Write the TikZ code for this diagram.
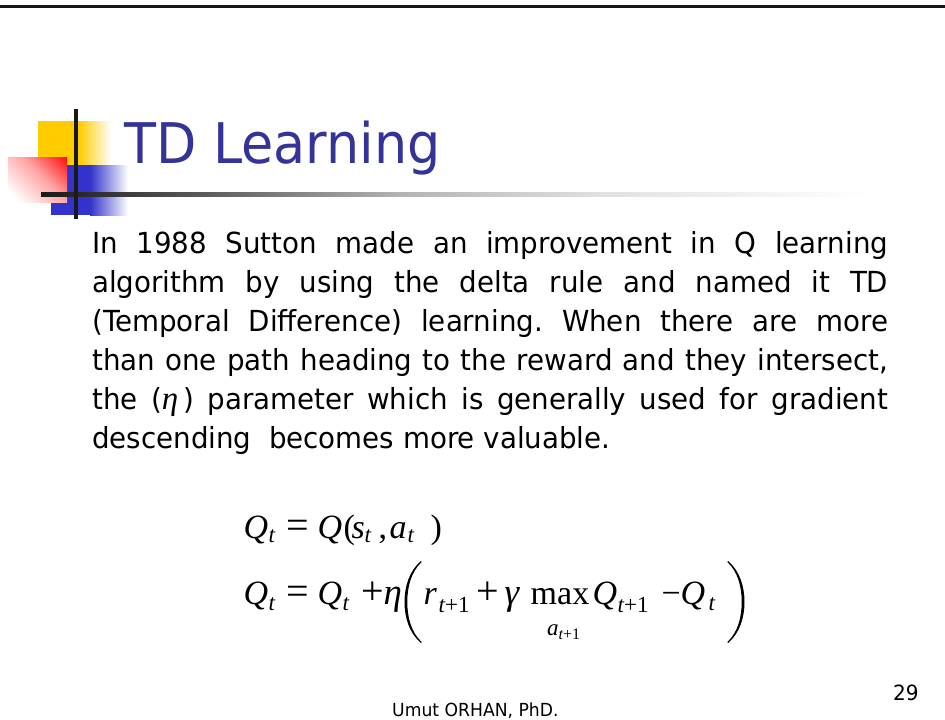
\documentclass[tikz,border=0pt]{standalone}
\usepackage{fontspec}
\usetikzlibrary{shadings}
\newfontfamily\slidefont{DejaVu Sans}[FakeStretch=0.955]
\newfontfamily\titlefont{DejaVu Sans}[FakeStretch=0.935]
\newfontfamily\eqfont{Liberation Serif}

\definecolor{titleblue}{RGB}{51,51,153}
\definecolor{logoblue}{RGB}{51,51,204}
\definecolor{logoyellow}{RGB}{255,204,0}
\definecolor{logored}{RGB}{255,0,0}

% grey rule under the title, fading out to the right
\pgfdeclarehorizontalshading{rulefade}{100bp}{%
  color(0bp)=(black!90); color(25bp)=(black!90);
  color(34.6bp)=(black!65); color(46.6bp)=(black!30);
  color(58.7bp)=(black!12); color(75bp)=(white); color(100bp)=(white)}
% red square: white in one corner, red in the opposite one
\pgfdeclareverticalshading{redfade}{100bp}{%
  color(0bp)=(white); color(22bp)=(white);
  color(55bp)=(logored!35); color(88bp)=(logored); color(100bp)=(logored)}

% place a piece of a formula at a fixed offset from the line start
\newcommand\putat[2]{\rlap{\hspace*{#1pt}#2}}
% lowered subscript
\newcommand\lowsub[2][6]{\raisebox{-#1pt}{\fontsize{23}{23}\selectfont #2}}
% operators and Greek letters set a little larger
\newcommand\bigop[1]{{\fontsize{40}{40}\selectfont #1}}
\newcommand\grk[1]{{\fontsize{37}{37}\selectfont\itshape #1}}

\tikzset{
  slidetext/.style={inner sep=0pt, font=\slidefont},
  formula/.style={inner sep=0pt, anchor=base west, font=\eqfont\fontsize{34}{40}\selectfont},
  bigparen/.style={fill=black},
}

\begin{document}
\begin{tikzpicture}[x=1pt,y=-1pt]
\useasboundingbox (0,0) rectangle (945,720);
\fill[white] (0,0) rectangle (945,720);

% top border
\draw[line width=3.5pt, black!92] (0,6.5) -- (945,6.5);

% title logo: yellow, blue and red squares with a cross
\fill[logoyellow] (38,121) rectangle (79.5,165);
\shade[left color=logoyellow, right color=white] (79,121) rectangle (111,165);
\fill[logoblue] (51,165) rectangle (90.5,215);
\shade[left color=logoblue, right color=white] (90,165) rectangle (128,215);
\shade[shading=redfade, shading angle=-45] (8,157) rectangle (67,202);
\shade[shading=rulefade] (41,192) rectangle (870,196);
\fill[black!90] (74,109) rectangle (78,219);

% title
\node[slidetext, anchor=base west, text=titleblue, font=\titlefont\fontsize{56}{60}\selectfont]
  (title) at (124,163) {TD Learning};

% body paragraph
\node[slidetext, anchor=north west, text width=796pt, align=justify,
      font=\slidefont\fontsize{29}{39}\selectfont]
  (body) at (92,231) {\tolerance=10000\hyphenpenalty=10000\frenchspacing
  In 1988 Sutton made an improvement in Q learning\linebreak
  algorithm by using the delta rule and named it TD\linebreak
  (Temporal Difference) learning. When there are more\linebreak
  than one path heading to the reward and they intersect,\linebreak
  the ({\eqfont\itshape\fontsize{33}{33}\selectfont η}\,) parameter which is generally used for gradient\linebreak
  descending\ \ becomes more valuable.};

% first formula: Q_t = Q(s_t, a_t)
\node[formula] (eqone) at (243,538) {%
  \putat{0}{\itshape Q}\putat{25}{\lowsub[4]{\itshape t}}\putat{43}{\bigop{=}}%
  \putat{74}{\itshape Q}\putat{100}{(}\putat{108}{\itshape s}%
  \putat{121}{\lowsub[4]{\itshape t}}\putat{135}{,}\putat{146}{\itshape a}%
  \putat{164}{\lowsub[4]{\itshape t}}\putat{187}{)}};

% second formula: update rule
\node[formula] (eqtwo) at (243,604) {%
  \putat{0}{\itshape Q}\putat{25}{\lowsub[6]{\itshape t}}\putat{43}{\bigop{=}}%
  \putat{74}{\itshape Q}\putat{99}{\lowsub[6]{\itshape t}}\putat{118}{\bigop{+}}%
  \putat{140}{\grk{η}}%
  \putat{180}{\itshape r}\putat{195}{\lowsub[8]{{\itshape t}+1}}\putat{233}{\bigop{+}}%
  \putat{261}{\grk{γ}}\putat{287}{max}%
  \putat{349}{\itshape Q}\putat{374}{\lowsub[8]{{\itshape t}+1}}\putat{418}{−}%
  \putat{437}{\itshape Q}\putat{465}{\lowsub[6]{\itshape t}}};
\node[formula, font=\eqfont\fontsize{23}{23}\selectfont] (maxsub) at (547,635)
  {\itshape a\raisebox{-4pt}{\fontsize{16}{16}\selectfont\upshape{\itshape t}+1}};

% large parentheses of the second formula
\fill[bigparen] (421,561) .. controls (409,571) and (404.5,587) .. (404.5,602)
  .. controls (404.5,617) and (409,633) .. (421,643)
  -- (421.6,642) .. controls (411,632) and (407.3,617) .. (407.3,602)
  .. controls (407.3,587) and (411,572) .. (421.6,562) -- cycle;
\fill[bigparen] (728,561) .. controls (740,571) and (744.5,587) .. (744.5,602)
  .. controls (744.5,617) and (740,633) .. (728,643)
  -- (727.4,642) .. controls (738,632) and (741.7,617) .. (741.7,602)
  .. controls (741.7,587) and (738,572) .. (727.4,562) -- cycle;

% footer
\node[slidetext, anchor=base west, font=\slidefont\fontsize{18}{20}\selectfont]
  (author) at (392,716) {Umut ORHAN, PhD.};
\node[slidetext, anchor=base west, font=\slidefont\fontsize{21}{22}\selectfont]
  (pageno) at (893,700) {29};
\end{tikzpicture}
\end{document}
